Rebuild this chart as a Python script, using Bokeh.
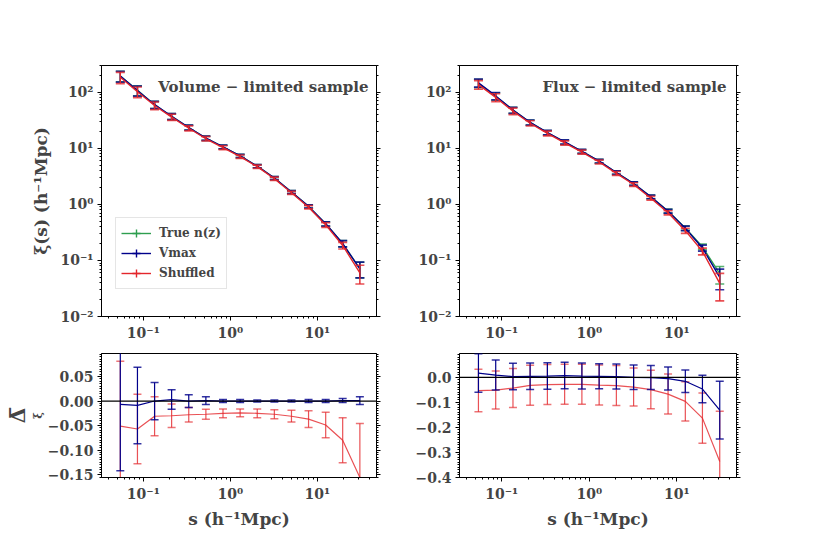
import numpy as np
from bokeh.plotting import figure
from bokeh.layouts import gridplot
from bokeh.models import (LogAxis, LinearAxis, LogTicker, FixedTicker, CustomJSTickFormatter,
                          Span, Label, Legend, LegendItem, Range1d, Title)
from bokeh.embed import file_html
from bokeh.resources import INLINE

# ---------------- data ----------------
s = [0.0543, 0.0855, 0.1346, 0.2113, 0.3327, 0.5236, 0.824, 1.297, 2.04, 3.21, 5.05, 7.94, 12.5, 19.6, 30.9]

# Volume-limited xi(s)
vol_true = [195, 108, 60, 37, 23.5, 15.2, 10.6, 7.3, 4.8, 2.95, 1.66, 0.92, 0.45, 0.20, 0.071]
vol_vmax = [194, 107, 60, 37.1, 23.5, 15.2, 10.6, 7.3, 4.8, 2.95, 1.66, 0.92, 0.45, 0.20, 0.071]
vol_shuf = [185, 102, 58, 36, 22.8, 14.8, 10.3, 7.1, 4.7, 2.87, 1.61, 0.89, 0.43, 0.185, 0.060]
vol_err = [42, 22, 9, 4.5, 2.4, 1.3, 0.8, 0.5, 0.3, 0.18, 0.1, 0.06, 0.04, 0.025, 0.022]

# Flux-limited xi(s)
flux_true = [145, 85, 48, 29, 19, 12.9, 8.8, 5.9, 3.7, 2.35, 1.36, 0.76, 0.38, 0.175, 0.058]
flux_vmax = [147, 86, 48, 29, 19.1, 13, 8.85, 5.92, 3.7, 2.35, 1.36, 0.756, 0.374, 0.167, 0.050]
flux_shuf = [137, 81, 46, 28, 18.5, 12.5, 8.55, 5.7, 3.58, 2.26, 1.29, 0.71, 0.34, 0.146, 0.039]
flux_err = [24, 13, 6, 3, 1.8, 1.1, 0.7, 0.45, 0.28, 0.17, 0.1, 0.06, 0.035, 0.02, 0.02]

# Relative differences (bottom panels)
vol_dv = [-0.007, -0.009, 0.0, 0.003, 0.0, 0.001, 0.0, 0.0, 0.0, 0.0, 0.0, 0.0, 0.0, 0.001, 0.001]
vol_dv_err = [0.135, 0.078, 0.038, 0.02, 0.013, 0.008, 0.003, 0.003, 0.002, 0.002, 0.002, 0.003, 0.003, 0.004, 0.008]
vol_ds = [-0.051, -0.057, -0.031, -0.030, -0.028, -0.027, -0.025, -0.024, -0.025, -0.027, -0.031, -0.037, -0.049, -0.080, -0.156]
vol_ds_err = [0.132, 0.071, 0.04, 0.024, 0.015, 0.01, 0.009, 0.008, 0.009, 0.009, 0.012, 0.017, 0.026, 0.046, 0.11]

flux_dv = [0.017, 0.009, 0.003, 0.004, 0.005, 0.007, 0.005, 0.004, 0.003, 0.0, -0.001, -0.005, -0.016, -0.047, -0.131]
flux_dv_err = [0.077, 0.06, 0.053, 0.053, 0.053, 0.053, 0.052, 0.05, 0.05, 0.049, 0.048, 0.046, 0.045, 0.055, 0.115]
flux_ds = [-0.053, -0.051, -0.043, -0.032, -0.029, -0.028, -0.028, -0.031, -0.033, -0.039, -0.049, -0.067, -0.096, -0.163, -0.336]
flux_ds_err = [0.085, 0.076, 0.078, 0.08, 0.08, 0.08, 0.08, 0.08, 0.08, 0.076, 0.077, 0.08, 0.078, 0.1, 0.2]

series_labels = ["True n(z)", "Vmax", "Shuffled"]
titles = ["Volume \u2212 limited sample", "Flux \u2212 limited sample"]
xlabel = "s (h\u207b\u00b9Mpc)"
ylabel_top = "\u03be(s) (h\u207b\u00b9Mpc)"

# ---------------- style ----------------
GREEN = "#2e9e4f"
BLUE = "#00008b"
RED = "#e3262b"
FONT = "DejaVu Serif"
X_RANGE = (0.033, 48)

log_fmt = CustomJSTickFormatter(code="""
const e = Math.round(Math.log10(tick));
const m = {"-":"\u207b","0":"\u2070","1":"\u00b9","2":"\u00b2","3":"\u00b3","4":"\u2074","5":"\u2075","6":"\u2076","7":"\u2077","8":"\u2078","9":"\u2079"};
return "10" + String(e).split("").map(c => m[c]).join("");
""")
blank_fmt = CustomJSTickFormatter(code="return '';")


def lin_fmt(nd):
    return CustomJSTickFormatter(code="""
const v = Math.abs(tick) < 1e-9 ? 0 : tick;
const t = Math.abs(v).toFixed(%d);
return v < 0 ? "\u2212" + t : t;
""" % nd)


def style_axis(ax):
    ax.axis_line_color = "black"
    ax.axis_line_width = 1
    ax.major_tick_line_color = "black"
    ax.minor_tick_line_color = "black"
    ax.major_tick_out = 4
    ax.major_tick_in = 0
    ax.minor_tick_out = 2
    ax.minor_tick_in = 0
    ax.major_label_text_font = FONT
    ax.major_label_text_font_style = "bold"
    ax.major_label_text_font_size = "14px"
    ax.major_label_standoff = 4
    ax.axis_label_text_font = FONT
    ax.axis_label_text_font_style = "bold"
    ax.axis_label_text_font_size = "17px"


def make_fig(ylog, yr, fw, fh, bl, br, bt, bb):
    p = figure(x_axis_type="log", y_axis_type="log" if ylog else "linear",
               x_range=Range1d(*X_RANGE), y_range=Range1d(*yr),
               frame_width=fw, frame_height=fh,
               min_border_left=bl, min_border_right=br, min_border_top=bt, min_border_bottom=bb,
               output_backend="svg", toolbar_location=None)
    p.grid.visible = False
    p.outline_line_color = "black"
    p.outline_line_width = 1
    p.background_fill_color = "white"
    p.border_fill_color = "white"
    p.xaxis.ticker = LogTicker(num_minor_ticks=10)
    p.xaxis.formatter = log_fmt
    if ylog:
        p.yaxis.ticker = LogTicker(num_minor_ticks=10)
        p.yaxis.formatter = log_fmt
        right = LogAxis(ticker=LogTicker(num_minor_ticks=10), formatter=blank_fmt)
    else:
        right = LinearAxis(formatter=blank_fmt)
    p.add_layout(right, "right")
    for ax in p.axis:
        style_axis(ax)
    right.major_label_standoff = 0
    return p, right


def errbars(p, x, y, e, color, lw=1.3, alpha=1.0, cap=9):
    lo = [a - b for a, b in zip(y, e)]
    hi = [a + b for a, b in zip(y, e)]
    ln = p.line(x, y, line_color=color, line_width=lw, line_alpha=alpha)
    p.segment(x0=x, y0=lo, x1=x, y1=hi, line_color=color, line_width=lw, line_alpha=alpha)
    p.scatter(x=list(x) + list(x), y=lo + hi, marker="dash", size=cap,
              line_color=color, line_width=lw + 0.3, line_alpha=alpha * 0.8)
    vb = p.scatter(x=[np.nan], y=[np.nan], marker="cross", size=12,
                   line_color=color, line_width=lw)
    return ln, vb


def left_title(p, text, size, offset=0, standoff=6):
    t = Title(text=text, align="center", offset=offset, standoff=standoff,
              text_font=FONT, text_font_style="bold", text_font_size=size)
    p.add_layout(t, "left")


# ---------------- top-left ----------------
tl, tl_r = make_fig(True, (1e-2, 300), 275, 251, 101, 35, 65, 29)
left_title(tl, ylabel_top, "17px", offset=-16, standoff=14)
items = []
for ys, col, lab in zip([vol_true, vol_vmax, vol_shuf], [GREEN, BLUE, RED], series_labels):
    ln, vb = errbars(tl, s, ys, vol_err, col, lw=1.4)
    items.append(LegendItem(label=lab, renderers=[ln, vb]))
leg = Legend(items=items, location=(14, 27))
leg.label_text_font = FONT
leg.label_text_font_style = "bold"
leg.label_text_font_size = "12px"
leg.glyph_width = 30
leg.glyph_height = 20
leg.spacing = 0
leg.padding = 5
leg.margin = 0
leg.label_standoff = 8
leg.border_line_color = "#cccccc"
leg.border_line_width = 1
leg.background_fill_alpha = 0.85
tl.add_layout(leg)
tl.add_layout(Label(x=267, y=230, x_units="screen", y_units="screen", text=titles[0],
                    text_align="right", text_baseline="middle", text_font=FONT,
                    text_font_style="bold", text_font_size="15px"))

# ---------------- top-right ----------------
tr, tr_r = make_fig(True, (1e-2, 300), 277, 251, 48, 30, 65, 29)
for ys, col in zip([flux_true, flux_vmax, flux_shuf], [GREEN, BLUE, RED]):
    errbars(tr, s, ys, flux_err, col, lw=1.4)
tr.add_layout(Label(x=267, y=230, x_units="screen", y_units="screen", text=titles[1],
                    text_align="right", text_baseline="middle", text_font=FONT,
                    text_font_style="bold", text_font_size="15px"))

# ---------------- bottom-left ----------------
bl, bl_r = make_fig(False, (-0.156, 0.097), 275, 124, 101, 35, 8, 55)
tk = [-0.15, -0.1, -0.05, 0.0, 0.05]
mk = list(np.round(np.arange(-0.155, 0.1, 0.005), 3))
bl.yaxis[0].ticker = FixedTicker(ticks=tk, minor_ticks=mk)
bl_r.ticker = FixedTicker(ticks=tk, minor_ticks=mk)
bl.yaxis[0].formatter = lin_fmt(2)
bl.xaxis[0].axis_label = xlabel
bl.xaxis[0].axis_label_standoff = 4
left_title(bl, "\u03be", "11px", offset=-13, standoff=0)
left_title(bl, "\u0394\u0305", "20px", offset=17, standoff=0)
bl.add_layout(Span(location=0, dimension="width", line_color="black", line_width=1.2))
errbars(bl, s, vol_ds, vol_ds_err, RED, lw=1.2, alpha=0.8, cap=8)
errbars(bl, s, vol_dv, vol_dv_err, BLUE, lw=1.2, cap=8)

# ---------------- bottom-right ----------------
br, br_r = make_fig(False, (-0.4, 0.095), 277, 124, 48, 30, 8, 55)
tk2 = [-0.4, -0.3, -0.2, -0.1, 0.0]
mk2 = list(np.round(np.arange(-0.4, 0.1, 0.01), 3))
br.yaxis[0].ticker = FixedTicker(ticks=tk2, minor_ticks=mk2)
br_r.ticker = FixedTicker(ticks=tk2, minor_ticks=mk2)
br.yaxis[0].formatter = lin_fmt(1)
br.xaxis[0].axis_label = xlabel
br.xaxis[0].axis_label_standoff = 4
br.add_layout(Span(location=0, dimension="width", line_color="black", line_width=1.2))
errbars(br, s, flux_ds, flux_ds_err, RED, lw=1.2, alpha=0.8, cap=8)
errbars(br, s, flux_dv, flux_dv_err, BLUE, lw=1.2, cap=8)

grid = gridplot([[tl, tr], [bl, br]], toolbar_location=None)

open("out.html", "w").write(file_html(grid, INLINE))
